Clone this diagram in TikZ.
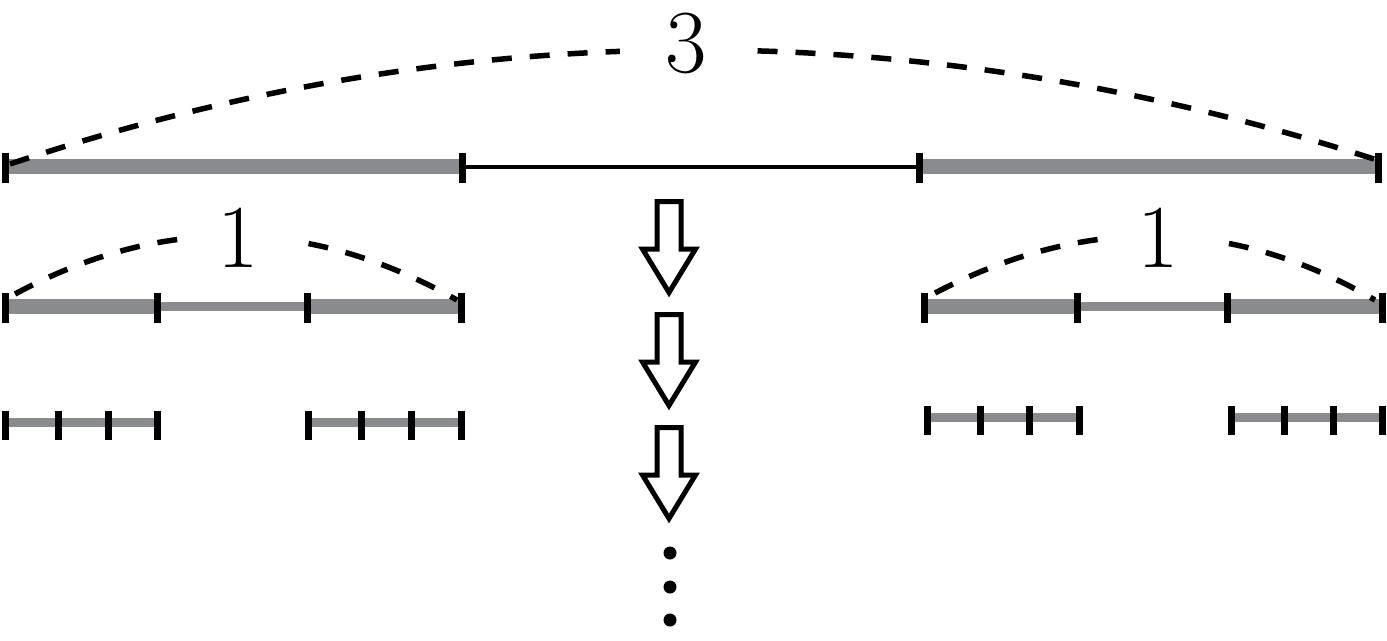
\documentclass[tikz,border=0pt]{standalone}
\usetikzlibrary{calc}
\definecolor{segGray}{RGB}{138,139,143}
\tikzset{
  thickseg/.style={draw=segGray, line width=15pt},
  thinseg/.style={draw=segGray, line width=9.5pt},
  midblack/.style={draw=black, line width=4pt},
  tickmark/.style={draw=black, line width=7pt},
  arcdash/.style={draw=black, line width=5.5pt, dash pattern=on 20pt off 18pt},
  lbl/.style={fill=white, inner sep=0pt, font=\fontsize{90}{90}\selectfont},
  hollowarrow/.style={draw=black, line width=5pt, fill=white, line join=miter},
  dotmark/.style={fill=black}
}
\begin{document}
\begin{tikzpicture}[x=1pt,y=-1pt]
\useasboundingbox (0,0) rectangle (1387,640);
% row 1
\coordinate (a0) at (5,166.5);
\coordinate (a1) at (462,166.5);
\coordinate (a2) at (919,166.5);
\coordinate (a3) at (1378,166.5);
\draw[thickseg] (a0) -- (a1);
\draw[midblack] (a1) -- (a2);
\draw[thickseg] (a2) -- (a3);
\foreach \n in {a0,a1,a2,a3} \draw[tickmark] ($(\n)+(0,-14)$) -- ($(\n)+(0,16)$);
% row 2 left
\coordinate (b0) at (5,306.5);
\coordinate (b1) at (157,306.5);
\coordinate (b2) at (307,306.5);
\coordinate (b3) at (461,306.5);
\draw[thickseg] (b0) -- (b1);
\draw[thinseg] (b1) -- (b2);
\draw[thickseg] (b2) -- (b3);
\foreach \n in {b0,b1,b2,b3} \draw[tickmark] ($(\n)+(0,-14)$) -- ($(\n)+(0,16)$);
% row 2 right
\coordinate (c0) at (924,306.5);
\coordinate (c1) at (1077,306.5);
\coordinate (c2) at (1227,306.5);
\coordinate (c3) at (1382,306.5);
\draw[thickseg] (c0) -- (c1);
\draw[thinseg] (c1) -- (c2);
\draw[thickseg] (c2) -- (c3);
\foreach \n in {c0,c1,c2,c3} \draw[tickmark] ($(\n)+(0,-14)$) -- ($(\n)+(0,16)$);
% row 3 left
\coordinate (d0) at (5,422.5);
\coordinate (d1) at (58,422.5);
\coordinate (d2) at (108,422.5);
\coordinate (d3) at (157,422.5);
\coordinate (d4) at (308,422.5);
\coordinate (d5) at (361,422.5);
\coordinate (d6) at (411,422.5);
\coordinate (d7) at (461,422.5);
\draw[thinseg] (d0) -- (d3);
\draw[thinseg] (d4) -- (d7);
\foreach \n in {d0,d1,d2,d3,d4,d5,d6,d7} \draw[tickmark] ($(\n)+(0,-12)$) -- ($(\n)+(0,17)$);
% row 3 right
\coordinate (e0) at (927,417.5);
\coordinate (e1) at (980,417.5);
\coordinate (e2) at (1029,417.5);
\coordinate (e3) at (1079,417.5);
\coordinate (e4) at (1231,417.5);
\coordinate (e5) at (1284,417.5);
\coordinate (e6) at (1333,417.5);
\coordinate (e7) at (1382,417.5);
\draw[thinseg] (e0) -- (e3);
\draw[thinseg] (e4) -- (e7);
\foreach \n in {e0,e1,e2,e3,e4,e5,e6,e7} \draw[tickmark] ($(\n)+(0,-12)$) -- ($(\n)+(0,17)$);
% arcs
\coordinate (t0) at (10,164);
\coordinate (t1) at (1377,160);
\draw[arcdash] (t0) .. controls (461,13.3) and (916.7,12) .. (t1);
\coordinate (l0) at (15,294);
\coordinate (l1) at (457,300);
\draw[arcdash] (l0) .. controls (162.3,214.7) and (309.7,216.7) .. (l1);
\coordinate (r0) at (935,293);
\coordinate (r1) at (1375,300);
\draw[arcdash] (r0) .. controls (1085.7,214.7) and (1232.3,217) .. (r1);
% labels
\node[lbl, minimum width=132pt] (three) at (686,43.5) {3};
\node[lbl, minimum width=107pt] (oneL) at (238,237.5) {1};
\node[lbl, minimum width=114pt] (oneR) at (1158,237.5) {1};
% hollow arrows
\foreach \t/\nm in {201.5/arA,314.5/arB,427.5/arC}
  \draw[hollowarrow] (657,\t) -- (681,\t) -- (681,\t+47.5) -- (695.5,\t+47.5)
     -- (669,\t+91) -- (642.5,\t+47.5) -- (657,\t+47.5) -- cycle;
% dots
\fill[dotmark] (670,553) circle (6.5);
\fill[dotmark] (670,587) circle (6.5);
\fill[dotmark] (670,620) circle (6.5);
\end{tikzpicture}
\end{document}
